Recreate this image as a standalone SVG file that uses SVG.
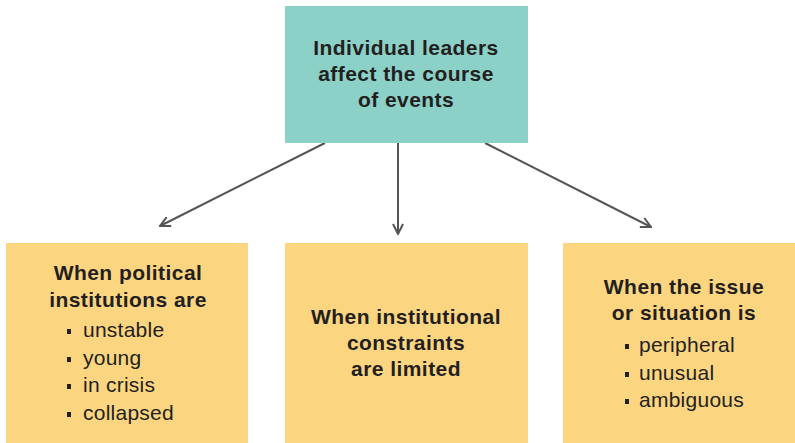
<svg xmlns="http://www.w3.org/2000/svg" width="795" height="443" viewBox="0 0 795 443">
<defs>
<style>
.top{fill:#8bd1c7}
.box{fill:#fcd581}
text{font-family:"Liberation Sans",Arial,sans-serif;fill:#231f20}
.h{font-size:21px;font-weight:bold;text-anchor:middle;letter-spacing:0.45px}
.i{font-size:21px;letter-spacing:0.25px}
.b{fill:#231f20}
.c{stroke:#555;stroke-width:2;fill:none}
</style>
<marker id="arr" viewBox="0 0 12 12" refX="11" refY="6" markerWidth="12" markerHeight="12" markerUnits="userSpaceOnUse" orient="auto">
<path d="M1,1 L11,6 L1,11" fill="none" stroke="#555" stroke-width="2"/>
</marker>
</defs>
<g id="connectors">
<line class="c" x1="325" y1="143" x2="160" y2="226" marker-end="url(#arr)"/>
<line class="c" x1="398" y1="143" x2="398" y2="234" marker-end="url(#arr)"/>
<line class="c" x1="485" y1="143" x2="651" y2="227" marker-end="url(#arr)"/>
</g>
<g id="leaders">
<rect class="top" x="285" y="6" width="243" height="137"/>
<text class="h" x="406" y="55">Individual leaders</text>
<text class="h" x="406" y="81">affect the course</text>
<text class="h" x="406" y="107">of events</text>
</g>
<g id="institutions">
<rect class="box" x="6" y="243" width="242" height="200"/>
<text class="h" x="128" y="280">When political</text>
<text class="h" x="128" y="307">institutions are</text>
<rect class="b" x="67" y="329" width="4" height="5"/>
<text class="i" x="83" y="337">unstable</text>
<rect class="b" x="67" y="357" width="4" height="5"/>
<text class="i" x="83" y="365">young</text>
<rect class="b" x="67" y="384" width="4" height="5"/>
<text class="i" x="83" y="392">in crisis</text>
<rect class="b" x="67" y="412" width="4" height="5"/>
<text class="i" x="83" y="420">collapsed</text>
</g>
<g id="constraints">
<rect class="box" x="285" y="243" width="243" height="200"/>
<text class="h" x="406" y="324">When institutional</text>
<text class="h" x="406" y="350">constraints</text>
<text class="h" x="406" y="376">are limited</text>
</g>
<g id="issue">
<rect class="box" x="563" y="243" width="232" height="200"/>
<text class="h" x="684" y="294">When the issue</text>
<text class="h" x="684" y="320">or situation is</text>
<rect class="b" x="625" y="344" width="4" height="5"/>
<text class="i" x="639" y="352">peripheral</text>
<rect class="b" x="625" y="372" width="4" height="5"/>
<text class="i" x="639" y="380">unusual</text>
<rect class="b" x="625" y="399" width="4" height="5"/>
<text class="i" x="639" y="407">ambiguous</text>
</g>
</svg>
